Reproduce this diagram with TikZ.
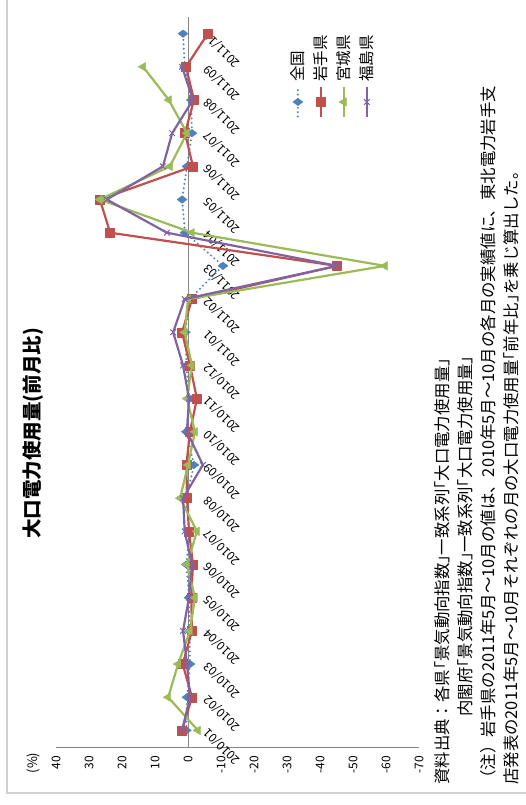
\documentclass[tikz,border=0pt]{standalone}
\usepackage{fontspec}
\setmainfont{Noto Sans CJK JP}
\usetikzlibrary{plotmarks}

\definecolor{zenkoku}{HTML}{4F81BD}
\definecolor{iwate}{HTML}{C0504D}
\definecolor{miyagi}{HTML}{9BBB59}
\definecolor{fukushima}{HTML}{8064A2}
\definecolor{axisgray}{HTML}{868686}
\definecolor{framegray}{HTML}{D0D0D0}

\newcommand{\ticklabelfont}{\fontsize{12}{14}\selectfont}
\newcommand{\legendfont}{\fontsize{15.5}{18}\selectfont}
\newcommand{\notefont}{\fontsize{16.4}{19}\selectfont}

\begin{document}
\begin{tikzpicture}[x=1pt, y=1pt,
    axisline/.style={draw=axisgray, line width=0.9pt},
    zenkokuline/.style={draw=zenkoku, line width=2.2pt, line cap=round, dash pattern=on 0pt off 4.4pt,
      mark=diamond*, mark size=5pt, mark options={solid, draw=zenkoku, fill=zenkoku, line width=0.4pt}},
    iwateline/.style={draw=iwate, line width=2.2pt, line join=round,
      mark=square*, mark size=4.5pt, mark options={draw=iwate, fill=iwate, line width=0.4pt}},
    miyagiline/.style={draw=miyagi, line width=2.2pt, line join=round,
      mark=triangle*, mark size=5pt, mark options={draw=miyagi, fill=miyagi, line width=0.4pt}},
    fukushimaline/.style={draw=fukushima, line width=2.2pt, line join=round,
      mark=x, mark size=4pt, mark options={draw=fukushima, line width=1pt}}]
  \useasboundingbox (0,0) rectangle (526,805);
  \draw[framegray, line width=1.5pt] (7,805) -- (7,12) -- (526,12);

  % title and unit
  \node[rotate=90, font=\fontsize{19.5}{22}\selectfont\bfseries] (title) at (33,371.5) {大口電力使用量(前月比)};
  \node[rotate=90, font=\fontsize{13}{15}\selectfont] (unit) at (33,42) {(\%)};

  % chart, drawn in landscape and turned
  \begin{scope}[shift={(188pt,58pt)}, rotate=90, transform shape, x=33.18pt, y=3.3pt]
    \draw[axisline] (0,-70) -- (0,40);
    \draw[axisline] (0,0) -- (22,0);
    \foreach \v in {40,30,...,-70}
      \node[anchor=east, font=\ticklabelfont, inner sep=0pt] at (-0.27,\v) {\v};
    \foreach \d [count=\i from 0] in {2010/01,2010/02,2010/03,2010/04,2010/05,2010/06,2010/07,2010/08,2010/09,2010/10,2010/11,2010/12,2011/01,2011/02,2011/03,2011/04,2011/05,2011/06,2011/07,2011/08,2011/09,2011/10}
      \node[rotate=45, anchor=east, font=\ticklabelfont, inner sep=0pt] at (\i+0.5,-5.6) {\d};

    % series
    \draw[zenkokuline] plot coordinates {(0.5,0.5) (1.5,0.3) (2.5,-0.6) (3.5,-0.5) (4.5,-0.3) (5.5,0.5) (6.5,-0.5) (7.5,0.5) (8.5,-1.8) (9.5,0.5) (10.5,-0.5) (11.5,0.5) (12.5,0.8) (13.5,-0.5) (14.5,-10.6) (15.5,0.9) (16.5,1.8) (17.5,0.3) (18.5,-1.2) (19.5,-1.0) (20.5,1.0) (21.5,1.5)};
    \draw[iwateline] plot coordinates {(0.5,1.8) (1.5,-1.2) (2.5,1.6) (3.5,-1.2) (4.5,-1.0) (5.5,-1.5) (6.5,-0.3) (7.5,0.3) (8.5,0.5) (9.5,-0.6) (10.5,-2.7) (11.5,-0.6) (12.5,1.8) (13.5,-1.2) (14.5,-45.2) (15.5,23.6) (16.5,26.7) (17.5,-1.5) (18.5,0.9) (19.5,-1.8) (20.5,0.6) (21.5,-6.0)};
    \draw[miyagiline] plot coordinates {(0.5,-3.0) (1.5,6.0) (2.5,3.0) (3.5,-0.6) (4.5,-2.1) (5.5,0.3) (6.5,-2.7) (7.5,2.4) (8.5,0.0) (9.5,-2.1) (10.5,0.3) (11.5,-1.2) (12.5,1.0) (13.5,0.0) (14.5,-59.7) (15.5,-1.2) (16.5,26.7) (17.5,5.5) (18.5,0.3) (19.5,5.8) (20.5,13.6)};
    \draw[fukushimaline] plot coordinates {(0.5,1.8) (1.5,-0.6) (2.5,0.3) (3.5,1.5) (4.5,-0.3) (5.5,-1.2) (6.5,1.0) (7.5,1.5) (8.5,-4.5) (9.5,0.3) (10.5,-0.3) (11.5,1.5) (12.5,4.5) (13.5,1.0) (14.5,-45.2) (15.5,6.4) (16.5,24.6) (17.5,7.6) (18.5,4.8) (19.5,-1.5) (20.5,1.8)};

    % legend
    \foreach \name/\sty [count=\k from 0] in {全国/zenkokuline, 岩手県/iwateline, 宮城県/miyagiline, 福島県/fukushimaline} {
      \pgfmathsetmacro\vv{-33.3-6.97*\k}
      \draw[\sty, mark=none] (19.0,\vv) -- (19.89,\vv);
      \path[\sty] plot coordinates {(19.44,\vv)};
      \node[anchor=west, font=\legendfont, inner sep=0pt] at (20.04,\vv) {\name};
    }
  \end{scope}

  % notes
  \node[rotate=90, anchor=west, font=\notefont, inner sep=0pt] (srcA) at (442,20) {資料出典：各県｢景気動向指数｣一致系列｢大口電力使用量｣};
  \node[rotate=90, anchor=west, font=\notefont, inner sep=0pt] (srcB) at (465,88) {内閣府｢景気動向指数｣一致系列｢大口電力使用量｣};
  \node[rotate=90, anchor=west, font=\notefont, inner sep=0pt] (noteA) at (488,18) {（注）岩手県の2011年5月～10月の値は、2010年5月～10月の各月の実績値に、東北電力岩手支};
  \node[rotate=90, anchor=west, font=\notefont, inner sep=0pt] (noteB) at (511,20) {店発表の2011年5月～10月それぞれの月の大口電力使用量｢前年比｣を乗じ算出した。};
\end{tikzpicture}
\end{document}
